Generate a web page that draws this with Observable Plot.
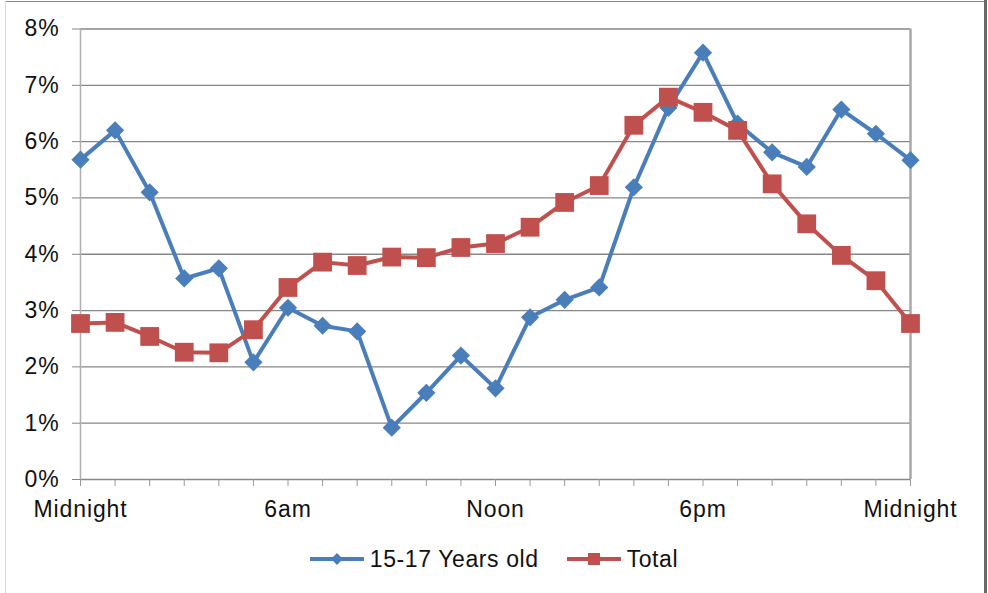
<!DOCTYPE html>
<html>
<head>
<meta charset="utf-8">
<script src="https://cdn.jsdelivr.net/npm/d3@7"></script>
<script src="https://cdn.jsdelivr.net/npm/@observablehq/plot@0.6"></script>
<style>
  html, body { margin: 0; padding: 0; background: #fff; }
  #wrap { position: relative; width: 988px; height: 593px; overflow: hidden; font-family: "Liberation Sans", Arial, sans-serif; }
  #wrap svg text { letter-spacing: 0.9px; }
  .bt { position: absolute; left: 5px; top: 1px; width: 980px; height: 1px; background: #8a8a8a; }
  .bl { position: absolute; left: 5px; top: 1px; width: 1px; height: 592px; background: #d8d8d8; }
  .br { position: absolute; left: 984px; top: 0; width: 3px; height: 593px; background: #6a6a6a; }
  #legend { position: absolute; left: 0; top: 542px; width: 988px; height: 34px; display: flex; justify-content: center; align-items: center; font-size: 23px; letter-spacing: 0.6px; color: #111; }
  #legend .item { display: flex; align-items: center; }
  #legend .item + .item { margin-left: 28px; }
  #legend svg { display: block; margin-right: 6px; }
</style>
</head>
<body>
<div id="wrap">
  <div class="bt"></div><div class="bl"></div><div class="br"></div>
  <div id="chart"></div>
  <div id="legend"></div>
</div>
<script>
// Hours of the day (0 = midnight ... 24 = next midnight)
const hours = [0,1,2,3,4,5,6,7,8,9,10,11,12,13,14,15,16,17,18,19,20,21,22,23,24];
// Share of activity by hour (%)
const teens = [5.68,6.2,5.1,3.57,3.75,2.08,3.05,2.73,2.63,0.92,1.54,2.2,1.62,2.88,3.19,3.41,5.19,6.6,7.58,6.32,5.81,5.55,6.57,6.14,5.67];
const total = [2.77,2.79,2.54,2.26,2.25,2.66,3.41,3.86,3.8,3.95,3.94,4.12,4.19,4.48,4.92,5.22,6.29,6.79,6.52,6.2,5.25,4.54,3.98,3.53,2.77];
// Axis labels
const xLabelHours = [0,6,12,18,24];
const xLabels = ["Midnight","6am","Noon","6pm","Midnight"];
const yTicks = [0,1,2,3,4,5,6,7,8];
const seriesNames = ["15-17 Years old","Total"];
const colors = ["#4a7ebb","#c0504d"];

const teenData = hours.map((h,i) => ({hour: h, value: teens[i]}));
const totalData = hours.map((h,i) => ({hour: h, value: total[i]}));

const chart = Plot.plot({
  width: 988,
  height: 530,
  marginLeft: 80,
  marginRight: 78,
  marginTop: 28.5,
  marginBottom: 51,
  style: {fontFamily: '"Liberation Sans", Arial, sans-serif', fontSize: "23px", color: "#111", background: "transparent", overflow: "visible"},
  x: {domain: [0, 24]},
  y: {domain: [0, 8]},
  marks: [
    Plot.gridY(yTicks, {stroke: "#878787", strokeOpacity: 1, strokeWidth: 1.3}),
    Plot.ruleX([0], {stroke: "#b0b0b0", strokeWidth: 1.5}),
    Plot.ruleX([24], {stroke: "#a8a8a8", strokeWidth: 2.5}),
    Plot.axisY(yTicks, {tickSize: 8, tickPadding: 13, stroke: "#878787", tickFormat: d => d + "%", label: null, fontSize: 23}),
    Plot.axisX(hours, {tickSize: 7, stroke: "#9a9a9a", tickFormat: () => "", label: null}),
    Plot.axisX(xLabelHours, {tickSize: 0, tickPadding: 21, tickFormat: d => xLabels[xLabelHours.indexOf(d)], label: null, fontSize: 23}),
    Plot.line(teenData, {x: "hour", y: "value", stroke: colors[0], strokeWidth: 4}),
    Plot.dot(teenData, {x: "hour", y: "value", symbol: "diamond2", r: 8.2, fill: colors[0], stroke: null}),
    Plot.line(totalData, {x: "hour", y: "value", stroke: colors[1], strokeWidth: 4}),
    Plot.dot(totalData, {x: "hour", y: "value", symbol: "square", r: 10.6, fill: colors[1], stroke: null})
  ]
});
document.getElementById("chart").appendChild(chart);

// Legend
const legend = document.getElementById("legend");
const swatch = (color, kind) => {
  const s = d3.create("svg").attr("width", 54).attr("height", 20);
  s.append("line").attr("x1", 0).attr("x2", 54).attr("y1", 10).attr("y2", 10).attr("stroke", color).attr("stroke-width", 4);
  if (kind === "diamond") {
    s.append("path").attr("d", "M27,4 L33,10 L27,16 L21,10 Z").attr("fill", color);
  } else {
    s.append("rect").attr("x", 21).attr("y", 4).attr("width", 12).attr("height", 12).attr("fill", color);
  }
  return s.node();
};
seriesNames.forEach((name, i) => {
  const item = document.createElement("div");
  item.className = "item";
  item.appendChild(swatch(colors[i], i === 0 ? "diamond" : "square"));
  const t = document.createElement("span");
  t.textContent = name;
  item.appendChild(t);
  legend.appendChild(item);
});
</script>
</body>
</html>
